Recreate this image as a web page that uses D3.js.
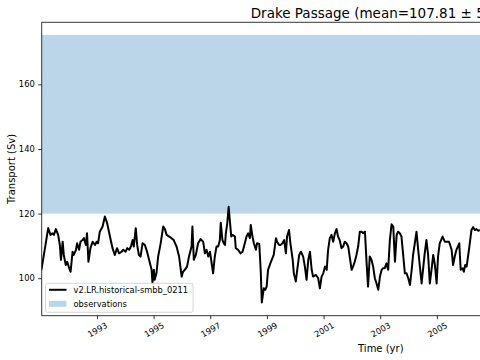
<!DOCTYPE html>
<html>

<head>
    <meta charset="utf-8">
    <title>Drake Passage transport</title>
    <style>
        body { margin: 0; background: #fff; }
        text { font-family: "DejaVu Sans", sans-serif; fill: #000; }
    </style>
</head>

<body>
    <svg class="chart"></svg>
    <script src="https://cdn.jsdelivr.net/npm/d3@7"></script>
    <script>
        // model transport (decimal year, Sv)
        const years = [
            1991.04, 1991.28, 1991.36, 1991.43, 1991.48, 1991.55, 1991.63, 1991.69, 1991.73, 1991.79,
            1991.83, 1991.90, 1991.95, 1992.02, 1992.07, 1992.14, 1992.18, 1992.26, 1992.30, 1992.37,
            1992.42, 1992.49, 1992.54, 1992.61, 1992.65, 1992.70, 1992.77, 1992.85, 1992.93, 1992.99,
            1993.04, 1993.10, 1993.20, 1993.28, 1993.36, 1993.46, 1993.55, 1993.63, 1993.71, 1993.78,
            1993.87, 1993.93, 1994.01, 1994.07, 1994.14, 1994.20, 1994.26, 1994.30, 1994.37, 1994.42,
            1994.48, 1994.54, 1994.61, 1994.69, 1994.77, 1994.84, 1994.93, 1994.96, 1995.01, 1995.04,
            1995.10, 1995.16, 1995.25, 1995.34, 1995.40, 1995.46, 1995.55, 1995.63, 1995.71, 1995.81,
            1995.90, 1995.99, 1996.04, 1996.10, 1996.18, 1996.25, 1996.34, 1996.37, 1996.42, 1996.49,
            1996.57, 1996.66, 1996.75, 1996.81, 1996.87, 1996.93, 1996.99, 1997.05, 1997.10, 1997.16,
            1997.22, 1997.28, 1997.34, 1997.37, 1997.43, 1997.48, 1997.52, 1997.55, 1997.60, 1997.65,
            1997.69, 1997.74, 1997.79, 1997.87, 1997.90, 1997.98, 1998.07, 1998.14, 1998.22, 1998.28,
            1998.34, 1998.40, 1998.43, 1998.49, 1998.54, 1998.61, 1998.65, 1998.73, 1998.78, 1998.82,
            1998.89, 1998.94, 1998.99, 1999.04, 1999.10, 1999.17, 1999.24, 1999.32, 1999.36, 1999.43,
            1999.48, 1999.55, 1999.61, 1999.67, 1999.71, 1999.78, 1999.83, 1999.91, 1999.95, 2000.02,
            2000.07, 2000.14, 2000.20, 2000.28, 2000.34, 2000.40, 2000.46, 2000.52, 2000.58, 2000.63,
            2000.73, 2000.81, 2000.87, 2000.93, 2000.99, 2001.05, 2001.11, 2001.16, 2001.22, 2001.28,
            2001.34, 2001.40, 2001.46, 2001.51, 2001.57, 2001.63, 2001.69, 2001.75, 2001.81, 2001.87,
            2001.93, 2001.99, 2002.04, 2002.10, 2002.16, 2002.22, 2002.28, 2002.34, 2002.40, 2002.46,
            2002.52, 2002.57, 2002.63, 2002.69, 2002.75, 2002.81, 2002.87, 2002.93, 2002.99, 2003.05,
            2003.10, 2003.16, 2003.22, 2003.28, 2003.34, 2003.40, 2003.46, 2003.52, 2003.58, 2003.63,
            2003.69, 2003.75, 2003.81, 2003.87, 2003.93, 2003.99, 2004.05, 2004.11, 2004.16, 2004.22,
            2004.28, 2004.34, 2004.40, 2004.46, 2004.51, 2004.57, 2004.63, 2004.69, 2004.75, 2004.81,
            2004.87, 2004.93, 2004.99, 2005.04, 2005.10, 2005.20, 2005.28, 2005.34, 2005.43, 2005.52,
            2005.57, 2005.63, 2005.69, 2005.79, 2005.84, 2005.91, 2005.95, 2006.00, 2006.05, 2006.14,
            2006.22, 2006.28, 2006.34, 2006.40, 2006.46, 2006.52
        ]
        const transport = [
            102.6, 115.5, 113.4, 113.9, 113.4, 115.2, 113.4, 110.3, 105.7, 111.3,
            107.2, 104.1, 105.1, 103.1, 102.0, 108.2, 107.2, 108.8, 110.8, 108.8,
            111.3, 111.8, 112.4, 110.3, 113.9, 105.1, 109.3, 111.3, 110.3, 111.3,
            110.8, 114.4, 116.0, 119.1, 117.0, 112.9, 109.3, 107.2, 109.3, 107.7,
            108.2, 108.8, 108.2, 109.3, 108.8, 109.8, 111.8, 109.8, 115.5, 110.3,
            107.2, 106.7, 110.8, 110.3, 108.2, 105.7, 102.6, 98.6, 102.6, 99.5,
            101.5, 106.7, 110.8, 116.0, 115.2, 113.4, 112.9, 112.4, 111.8, 109.8,
            106.7, 100.5, 102.0, 102.6, 103.6, 106.7, 109.8, 116.0, 105.7, 107.2,
            110.8, 112.1, 111.3, 107.7, 108.8, 106.7, 108.2, 104.6, 101.5, 106.7,
            109.8, 109.8, 111.8, 117.2, 111.8, 110.8, 110.3, 113.9, 117.0, 122.1,
            118.0, 112.9, 113.4, 112.9, 109.3, 108.8, 107.7, 108.2, 110.8, 112.9,
            113.9, 112.4, 116.5, 112.9, 110.8, 108.8, 110.8, 110.6, 102.6, 92.5,
            96.9, 96.4, 97.4, 102.6, 104.1, 105.7, 107.2, 112.4, 111.3, 110.3,
            110.3, 110.8, 111.8, 107.7, 112.9, 114.9, 110.8, 105.7, 101.5, 99.0,
            102.6, 107.2, 108.2, 106.7, 103.6, 99.5, 105.7, 108.2, 102.6, 100.5,
            101.0, 100.0, 96.9, 100.5, 101.5, 103.6, 102.6, 108.8, 112.4, 113.4,
            111.3, 113.9, 115.2, 112.9, 111.8, 109.3, 109.8, 111.3, 110.8, 109.8,
            106.2, 102.6, 103.6, 105.1, 107.2, 109.8, 114.4, 114.4, 113.9, 114.4,
            104.6, 97.4, 106.7, 105.7, 103.6, 100.0, 98.4, 96.4, 100.5, 102.6,
            103.1, 103.1, 104.6, 102.6, 111.8, 116.7, 116.0, 105.1, 113.4, 114.4,
            113.9, 112.9, 107.2, 101.5, 101.5, 100.0, 97.9, 102.6, 107.2, 110.8,
            114.4, 108.8, 103.6, 98.4, 102.6, 107.7, 111.8, 107.2, 98.4, 102.6,
            107.2, 104.1, 98.4, 106.7, 110.8, 112.9, 111.3, 111.3, 111.3, 108.8,
            104.1, 106.7, 108.8, 110.8, 102.6, 103.1, 102.0, 104.1, 103.6, 109.3,
            114.9, 115.8, 114.9, 115.2, 114.7, 114.9
        ]
        // observed range (shaded band)
        const obsRange = [120, 175.3]
        const xTicks = [1993, 1995, 1997, 1999, 2001, 2003, 2005]
        const yTicks = [100, 120, 140, 160]
        const xDomain = [1991.05, 2006.55]
        const yDomain = [88.4, 179.2]
        const seriesName = "v2.LR.historical-smbb_0211"
        const obsName = "observations"
        const titleText = "Drake Passage (mean=107.81 \u00b1 5"

        var width = 480, height = 360
        const plot = { left: 41.7, right: 480.8, top: 22.3, bottom: 315.7 }

        var svg = d3.select(".chart")
            .attr("width", width)
            .attr("height", height)

        var xScale = d3.scaleLinear().domain(xDomain).range([plot.left, plot.right])
        var yScale = d3.scaleLinear().domain(yDomain).range([plot.bottom, plot.top])

        svg.append("clipPath")
            .attr("id", "plotclip")
            .append("rect")
            .attr("x", plot.left)
            .attr("y", plot.top)
            .attr("width", plot.right - plot.left)
            .attr("height", plot.bottom - plot.top)

        // observations band
        svg.append("rect")
            .attr("clip-path", "url(#plotclip)")
            .attr("x", plot.left)
            .attr("width", plot.right - plot.left)
            .attr("y", yScale(obsRange[1]))
            .attr("height", yScale(obsRange[0]) - yScale(obsRange[1]))
            .attr("fill", "rgb(31,119,180)")
            .attr("fill-opacity", 0.3)

        var line = d3.line()
            .x(function (d) { return xScale(d[0]) })
            .y(function (d) { return yScale(d[1]) })

        svg.append("path")
            .datum(years.map((y, i) => [y, transport[i]]))
            .attr("clip-path", "url(#plotclip)")
            .attr("d", line)
            .attr("fill", "none")
            .attr("stroke", "#000")
            .attr("stroke-width", 2)
            .attr("stroke-linejoin", "round")

        // axes
        var xAxis = svg.append("g")
            .attr("transform", `translate(0, ${plot.bottom})`)
            .call(d3.axisBottom(xScale).tickValues(xTicks).tickSize(3.5).tickPadding(3).tickFormat(d3.format("d")))
        xAxis.select(".domain").remove()
        xAxis.selectAll(".tick line").attr("stroke", "#000").attr("stroke-width", 0.8)
        xAxis.selectAll(".tick text")
            .attr("font-size", 8.3)
            .attr("font-family", "DejaVu Sans")
            .attr("text-anchor", "middle")
            .attr("dy", null)
            .attr("y", null)
            .attr("dominant-baseline", "central")
            .attr("transform", "translate(0, 14) rotate(-30)")

        var yAxis = svg.append("g")
            .attr("transform", `translate(${plot.left}, 0)`)
            .call(d3.axisLeft(yScale).tickValues(yTicks).tickSize(3.5).tickPadding(3.5))
        yAxis.select(".domain").remove()
        yAxis.selectAll(".tick line").attr("stroke", "#000").attr("stroke-width", 0.8)
        yAxis.selectAll(".tick text")
            .attr("font-size", 8.3)
            .attr("font-family", "DejaVu Sans")

        // spines (right one is off the page)
        svg.append("path")
            .attr("d", `M${plot.right},${plot.top}H${plot.left}V${plot.bottom}H${plot.right}`)
            .attr("fill", "none")
            .attr("stroke", "#000")
            .attr("stroke-width", 0.8)

        // labels
        svg.append("text")
            .attr("x", 380.8)
            .attr("y", 352)
            .attr("text-anchor", "middle")
            .attr("font-size", 10)
            .text("Time (yr)")

        svg.append("text")
            .attr("transform", `translate(14.5, ${(plot.top + plot.bottom) / 2}) rotate(-90)`)
            .attr("text-anchor", "middle")
            .attr("font-size", 10)
            .text("Transport (Sv)")

        // title runs off the right edge, as in the source figure
        svg.append("text")
            .attr("x", 250.7)
            .attr("y", 18)
            .attr("font-size", 13.5)
            .text(titleText)

        // legend
        var legend = svg.append("g").attr("transform", "translate(45.5, 283.3)")
        legend.append("rect")
            .attr("width", 147.5)
            .attr("height", 29)
            .attr("rx", 2)
            .attr("fill", "#fff")
            .attr("fill-opacity", 0.8)
            .attr("stroke", "#ccc")
            .attr("stroke-width", 0.8)
        legend.append("line")
            .attr("x1", 3.5).attr("x2", 21)
            .attr("y1", 6.5).attr("y2", 6.5)
            .attr("stroke", "#000")
            .attr("stroke-width", 2)
        legend.append("rect")
            .attr("x", 3.5).attr("y", 17.5)
            .attr("width", 17.5).attr("height", 6)
            .attr("fill", "rgb(31,119,180)")
            .attr("fill-opacity", 0.3)
        legend.append("text")
            .attr("x", 28).attr("y", 6.5)
            .attr("dominant-baseline", "central")
            .attr("font-size", 8.3)
            .text(seriesName)
        legend.append("text")
            .attr("x", 28).attr("y", 20.5)
            .attr("dominant-baseline", "central")
            .attr("font-size", 8.3)
            .text(obsName)
    </script>
</body>

</html>
